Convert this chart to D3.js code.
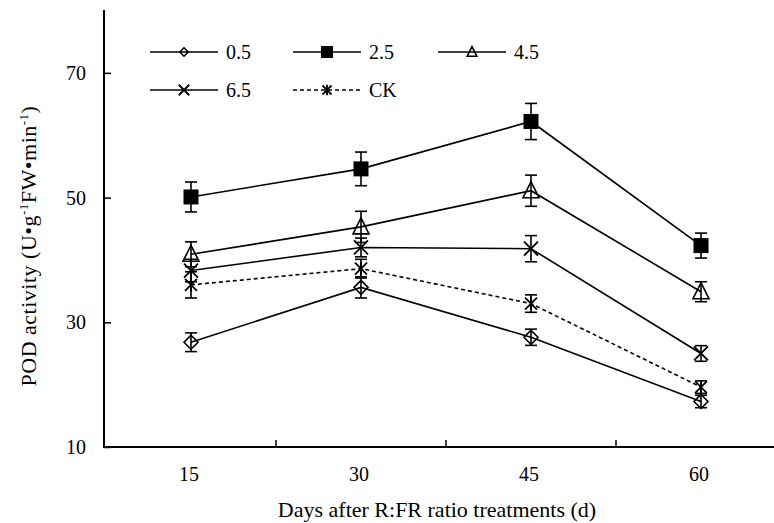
<!DOCTYPE html>
<html>
<head>
<meta charset="utf-8">
<script src="https://cdn.jsdelivr.net/npm/d3@7"></script>
<style>
  html, body { margin: 0; padding: 0; background: #fff; }
  svg { display: block; font-family: "Liberation Serif", "Times New Roman", serif; }
</style>
</head>
<body>
<svg id="chart" width="774" height="523"></svg>
<script>
// ---- data ----
const days = ["15", "30", "45", "60"];
const seriesNames = ["0.5", "2.5", "4.5", "6.5", "CK"];
const v05 = [26.8, 35.6, 27.6, 17.3];
const e05 = [1.5, 1.7, 1.3, 1.0];
const v25 = [50.1, 54.6, 62.2, 42.3];
const e25 = [2.4, 2.7, 2.9, 2.0];
const v45 = [40.9, 45.3, 51.1, 34.9];
const e45 = [2.0, 2.5, 2.5, 1.6];
const v65 = [38.3, 42.0, 41.8, 25.0];
const e65 = [1.8, 1.5, 2.1, 1.25];
const vCK = [36.0, 38.6, 33.0, 19.6];
const eCK = [2.1, 1.5, 1.4, 1.0];
const yTicks = [10, 30, 50, 70];

const series = [
  { name: seriesNames[0], values: v05, errors: e05, marker: "diamond", dash: null },
  { name: seriesNames[1], values: v25, errors: e25, marker: "square", dash: null },
  { name: seriesNames[2], values: v45, errors: e45, marker: "triangle", dash: null },
  { name: seriesNames[3], values: v65, errors: e65, marker: "x", dash: null },
  { name: seriesNames[4], values: vCK, errors: eCK, marker: "asterisk", dash: "4,3" }
];

const svg = d3.select("#chart");
const plotLeft = 104, plotTop = 10, plotBottom = 447;

const x = d3.scaleBand().domain(days).range([106, 786]).padding(0);
const y = d3.scaleLinear().domain([10, 80]).range([plotBottom, plotTop + 0.5]);
const cx = d => x(d) + x.bandwidth() / 2;

// ---- axes ----
const g = svg.append("g");
g.append("line").attr("x1", plotLeft).attr("x2", plotLeft).attr("y1", plotTop).attr("y2", plotBottom)
  .attr("stroke", "#000").attr("stroke-width", 2);
g.append("line").attr("x1", plotLeft - 1).attr("x2", 774).attr("y1", plotBottom).attr("y2", plotBottom)
  .attr("stroke", "#000").attr("stroke-width", 2);

// y ticks (inside)
const yAxis = d3.axisRight(y).tickValues(yTicks).tickSize(7).tickFormat("");
const yg = svg.append("g").attr("transform", `translate(${plotLeft},0)`).call(yAxis);
yg.select(".domain").remove();
yg.selectAll(".tick line").attr("stroke", "#000").attr("stroke-width", 1.5);
svg.append("g").selectAll("text").data(yTicks).join("text")
  .attr("x", 86).attr("y", d => y(d)).attr("dy", "0.35em")
  .attr("text-anchor", "end").attr("font-size", 20).text(d => d);

// x ticks at band boundaries (inside)
const boundaries = days.slice(1).map(d => x(d));
svg.append("g").selectAll("line").data(boundaries).join("line")
  .attr("x1", d => d).attr("x2", d => d).attr("y1", plotBottom).attr("y2", plotBottom - 7)
  .attr("stroke", "#000").attr("stroke-width", 1.5);
svg.append("g").selectAll("text").data(days).join("text")
  .attr("x", d => cx(d) - 2).attr("y", 474).attr("dy", "0.35em")
  .attr("text-anchor", "middle").attr("font-size", 20).text(d => d);

// axis titles
svg.append("text").attr("x", 437).attr("y", 509).attr("dy", "0.35em")
  .attr("text-anchor", "middle").attr("font-size", 22)
  .text("Days after R:FR ratio treatments (d)");

const yl = svg.append("text").attr("transform", "translate(36,246) rotate(-90)")
  .attr("text-anchor", "middle").attr("font-size", 22).attr("letter-spacing", 0.5);
yl.append("tspan").text("POD activity (U•g");
yl.append("tspan").attr("font-size", 13).attr("dy", -8).text("-1");
yl.append("tspan").attr("dy", 8).text("FW•min");
yl.append("tspan").attr("font-size", 13).attr("dy", -8).text("-1");
yl.append("tspan").attr("dy", 8).text(")");

// ---- markers ----
function drawMarker(sel, type, px, py, s) {
  const k = s || 1;
  if (type === "diamond") {
    sel.append("path").attr("d", `M${px},${py - 7 * k}L${px + 7 * k},${py}L${px},${py + 7 * k}L${px - 7 * k},${py}Z`)
      .attr("fill", "none").attr("stroke", "#000").attr("stroke-width", 1.6);
  } else if (type === "square") {
    sel.append("rect").attr("x", px - 7.5 * k).attr("y", py - 7.5 * k)
      .attr("width", 15 * k).attr("height", 15 * k).attr("fill", "#000");
  } else if (type === "triangle") {
    sel.append("path").attr("d", `M${px},${py - 9 * k}L${px + 8 * k},${py + 7 * k}L${px - 8 * k},${py + 7 * k}Z`)
      .attr("fill", "none").attr("stroke", "#000").attr("stroke-width", 1.6);
  } else if (type === "x") {
    sel.append("path").attr("d", `M${px - 7 * k},${py - 7 * k}L${px + 7 * k},${py + 7 * k}M${px - 7 * k},${py + 7 * k}L${px + 7 * k},${py - 7 * k}`)
      .attr("fill", "none").attr("stroke", "#000").attr("stroke-width", 1.8);
  } else if (type === "asterisk") {
    sel.append("path").attr("d", `M${px - 6 * k},${py - 6 * k}L${px + 6 * k},${py + 6 * k}M${px - 6 * k},${py + 6 * k}L${px + 6 * k},${py - 6 * k}M${px},${py - 7 * k}L${px},${py + 7 * k}`)
      .attr("fill", "none").attr("stroke", "#000").attr("stroke-width", 1.8);
  }
}

const line = d3.line().x((d, i) => cx(days[i])).y(d => y(d));

const plot = svg.append("g");
series.forEach(s => {
  plot.append("path").datum(s.values).attr("d", line)
    .attr("fill", "none").attr("stroke", "#000").attr("stroke-width", 1.6)
    .attr("stroke-dasharray", s.dash);
});
series.forEach(s => {
  const sg = plot.append("g");
  s.values.forEach((v, i) => {
    const px = cx(days[i]);
    const y1 = y(v + s.errors[i]), y2 = y(v - s.errors[i]);
    sg.append("line").attr("x1", px).attr("x2", px).attr("y1", y1).attr("y2", y2)
      .attr("stroke", "#000").attr("stroke-width", 1.6);
    [y1, y2].forEach(yy => sg.append("line").attr("x1", px - 6).attr("x2", px + 6)
      .attr("y1", yy).attr("y2", yy).attr("stroke", "#000").attr("stroke-width", 1.6));
    drawMarker(sg, s.marker, px, y(v), 1);
  });
});

// ---- legend ----
const legendPos = [
  { x: 150, y: 52 }, { x: 293, y: 52 }, { x: 438, y: 52 },
  { x: 150, y: 90 }, { x: 293, y: 90 }
];
const legendScale = { diamond: 0.6, square: 0.8, triangle: 0.6, x: 0.75, asterisk: 0.75 };
series.forEach((s, i) => {
  const p = legendPos[i];
  const lg = svg.append("g");
  lg.append("line").attr("x1", p.x).attr("x2", p.x + 68).attr("y1", p.y).attr("y2", p.y)
    .attr("stroke", "#000").attr("stroke-width", 1.6).attr("stroke-dasharray", s.dash);
  drawMarker(lg, s.marker, p.x + 34, p.y, legendScale[s.marker]);
  lg.append("text").attr("x", p.x + 76).attr("y", p.y).attr("dy", "0.35em")
    .attr("font-size", 20).text(s.name);
});
</script>
</body>
</html>
